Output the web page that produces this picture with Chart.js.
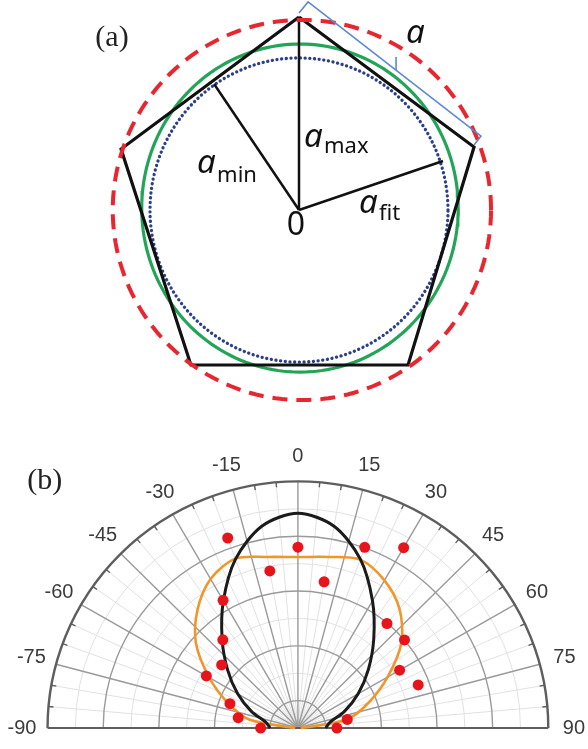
<!DOCTYPE html>
<html>
<head>
<meta charset="utf-8">
<script src="https://cdn.jsdelivr.net/npm/chart.js@4.4.1/dist/chart.umd.min.js"></script>
<style>
  html, body { margin: 0; padding: 0; background: #fff; }
  #page { position: relative; width: 588px; height: 749px; overflow: hidden; }
  #chartA { position: absolute; left: 0; top: 0; }
  #chartB { position: absolute; left: 0; top: 420px; }
</style>
</head>
<body>
<div id="page">
  <canvas id="chartA" width="588" height="420"></canvas>
  <canvas id="chartB" width="588" height="329"></canvas>
</div>
<script>
// ---------- panel (a): pentagon, lengths in units of a_max ----------
const pentagonX = [0.00, 0.907, 0.565, -0.560, -0.922];
const pentagonY = [1.00, 0.326, -0.803, -0.803, 0.316];
// circles: centre x, centre y, radius x, radius y
const outerCircle = [0.015, 0.000, 0.980, 0.985];   // red dashed
const fitCircle   = [0.005, 0.010, 0.820, 0.850];   // green
const innerCircle = [0.000, 0.000, 0.772, 0.788];   // blue dotted
const aMaxEnd = [0.000, 1.000];
const aMinEnd = [-0.440, 0.653];
const aFitEnd = [0.746, 0.254];
const bracketX = [0.000, 0.047, 0.943, 0.907];
const bracketY = [1.021, 1.078, 0.383, 0.337];
const bracketTickX = [0.503, 0.503];
const bracketTickY = [0.725, 0.793];

// ---------- panel (b): polar pattern, angle from vertical (deg) ----------
const angles    = [-90, -80, -70, -60, -50, -40, -30, -20, -10, 0, 10, 20, 30, 40, 50, 60, 70, 80, 90];
const measured  = [0.67, 1.09, 1.30, 1.90, 1.79, 2.10, 2.69, 3.69, 2.91, 3.30, 2.71, 3.51, 3.80, 2.49, 2.50, 2.11, 2.30, 0.90, 0.70];
const fitBlack  = [0.50, 0.58, 0.89, 1.25, 1.65, 2.12, 2.68, 3.28, 3.74, 3.92, 3.74, 3.28, 2.68, 2.12, 1.65, 1.25, 0.89, 0.58, 0.50];
const fitOrange = [0.05, 0.89, 1.34, 1.84, 2.39, 2.81, 3.14, 3.29, 3.17, 3.12, 3.17, 3.27, 3.11, 2.84, 2.43, 1.86, 1.35, 0.89, 0.05];
const angleTicks = [-90, -75, -60, -45, -30, -15, 0, 15, 30, 45, 60, 75, 90];
const ringMajor = [0.5, 1.5, 2.5, 3.5];
const ringMinor = [1, 2, 3, 4];
const rMax = 4.5;
const spokeStep = 5;

const rad = d => d * Math.PI / 180;

function xyPoints(xs, ys) {
  return xs.map((v, i) => ({ x: v, y: ys[i] }));
}
function polarPoints(degs, radii) {
  return degs.map((d, i) => ({ x: radii[i] * Math.sin(rad(d)), y: radii[i] * Math.cos(rad(d)) }));
}
function ellipsePoints(c) {
  const pts = [];
  for (let k = 0; k <= 180; k++) {
    const t = k / 180 * 2 * Math.PI;
    pts.push({ x: c[0] + c[2] * Math.cos(t), y: c[1] + c[3] * Math.sin(t) });
  }
  return pts;
}
function lineSet(label, data, color, width, extra) {
  return Object.assign({
    label: label, data: data, showLine: true, pointRadius: 0, fill: false,
    borderColor: color, borderWidth: width, tension: 0
  }, extra || {});
}

const baseOptions = (xr, yr) => ({
  responsive: false,
  animation: false,
  devicePixelRatio: 1,
  layout: { padding: 0 },
  plugins: { legend: { display: false }, tooltip: { enabled: false } },
  scales: {
    x: { type: 'linear', display: false, min: xr[0], max: xr[1] },
    y: { type: 'linear', display: false, min: yr[0], max: yr[1] }
  }
});

// ---------- text for panel (a) ----------
const SANS = '"Noto Sans", "Open Sans", sans-serif';
const labelsA = {
  id: 'labelsA',
  afterDatasetsDraw(chart) {
    const { ctx, scales: { x, y } } = chart;
    const P = (u, v) => [x.getPixelForValue(u), y.getPixelForValue(v)];
    ctx.save();
    ctx.fillStyle = '#111';
    ctx.textBaseline = 'alphabetic';
    const sym = (u, v, sub, drop) => {
      const [px, py] = P(u, v);
      ctx.textAlign = 'left';
      ctx.font = 'italic 33px ' + SANS;
      ctx.fillText('a', px, py);
      if (sub) {
        ctx.font = '22px ' + SANS;
        ctx.fillText(sub, px + 20, py + drop);
      }
    };
    sym(0.026, 0.326, 'max', 6);
    sym(-0.528, 0.192, 'min', 9);
    sym(0.311, -0.016, 'fit', 7);
    sym(0.555, 0.865, '', 0);
    let [px, py] = P(-0.016, -0.130);
    ctx.textAlign = 'center';
    ctx.font = '32px ' + SANS;
    ctx.fillText('0', px, py);
    [px, py] = P(-0.969, 0.891);
    ctx.textBaseline = 'middle';
    ctx.font = '30px "Liberation Serif", "DejaVu Serif", serif';
    ctx.fillStyle = '#222';
    ctx.fillText('(a)', px, py);
    ctx.restore();
  }
};

new Chart(document.getElementById('chartA'), {
  type: 'scatter',
  data: {
    datasets: [
      lineSet('bracket', xyPoints(bracketX, bracketY), '#5b8bd0', 1.6),
      lineSet('bracket tick', xyPoints(bracketTickX, bracketTickY), '#5b8bd0', 1.6),
      lineSet('circumscribed', ellipsePoints(outerCircle), '#e8262f', 4, { borderDash: [15, 9] }),
      lineSet('pentagon', xyPoints(pentagonX.concat(pentagonX[0]), pentagonY.concat(pentagonY[0])), '#111', 3.2, { borderJoinStyle: 'miter' }),
      lineSet('a max', xyPoints([0, aMaxEnd[0]], [0, aMaxEnd[1]]), '#111', 2.5),
      lineSet('a min', xyPoints([0, aMinEnd[0]], [0, aMinEnd[1]]), '#111', 2.5),
      lineSet('a fit', xyPoints([0, aFitEnd[0]], [0, aFitEnd[1]]), '#111', 2.5),
      lineSet('fit circle', ellipsePoints(fitCircle), '#23a557', 3.2),
      lineSet('inscribed', ellipsePoints(innerCircle), '#2c3f8a', 3.3, { borderDash: [0.1, 4.6], borderCapStyle: 'round' })
    ]
  },
  options: baseOptions([-299 / 193, 289 / 193], [-210 / 193, 210 / 193]),
  plugins: [labelsA]
});

// ---------- polar grid + labels for panel (b) ----------
const polarGrid = {
  id: 'polarGrid',
  beforeDatasetsDraw(chart) {
    const { ctx, scales: { x, y } } = chart;
    const cx = x.getPixelForValue(0), cy = y.getPixelForValue(0);
    const rx = r => x.getPixelForValue(r) - cx;
    const ry = r => cy - y.getPixelForValue(r);
    const at = (d, r) => [cx + rx(r) * Math.sin(rad(d)), cy - ry(r) * Math.cos(rad(d))];
    const seg = (a, b) => { ctx.beginPath(); ctx.moveTo(a[0], a[1]); ctx.lineTo(b[0], b[1]); ctx.stroke(); };
    const arc = r => { ctx.beginPath(); ctx.ellipse(cx, cy, rx(r), ry(r), 0, Math.PI, 2 * Math.PI); ctx.stroke(); };
    ctx.save();
    // minor grid
    ctx.strokeStyle = '#e1e1e1';
    ctx.lineWidth = 1;
    ringMinor.forEach(arc);
    for (let d = -90 + spokeStep; d < 90; d += spokeStep) {
      if (d % 15 !== 0) seg([cx, cy], at(d, rMax));
    }
    // major grid
    ctx.strokeStyle = '#9a9a9a';
    ctx.lineWidth = 1.4;
    ringMajor.forEach(arc);
    angleTicks.forEach(d => { if (Math.abs(d) < 90) seg([cx, cy], at(d, rMax)); });
    // outer frame
    ctx.strokeStyle = '#5e5e5e';
    ctx.lineWidth = 2.4;
    arc(rMax);
    ctx.lineWidth = 2;
    seg(at(-90, rMax), at(90, rMax));
    ctx.lineWidth = 1.4;
    for (let d = -90 + spokeStep; d < 90; d += spokeStep) {
      if (d % 15 !== 0) seg(at(d, rMax), at(d, rMax - 0.09));
    }
    ctx.restore();
  },
  afterDatasetsDraw(chart) {
    const { ctx, scales: { x, y } } = chart;
    ctx.save();
    ctx.fillStyle = '#3b3b3b';
    ctx.font = '20px "Liberation Sans", Arial, sans-serif';
    ctx.textAlign = 'center';
    ctx.textBaseline = 'middle';
    angleTicks.forEach(d => {
      const r = 4.96;
      const px = x.getPixelForValue(r * Math.sin(rad(d)));
      const py = y.getPixelForValue(r * Math.cos(rad(d)));
      ctx.fillText(String(d), px, py);
    });
    ctx.fillStyle = '#222';
    ctx.font = '30px "Liberation Serif", "DejaVu Serif", serif';
    ctx.fillText('(b)', x.getPixelForValue(-4.55), y.getPixelForValue(4.50));
    ctx.restore();
  }
};

new Chart(document.getElementById('chartB'), {
  type: 'scatter',
  data: {
    datasets: [
      {
        label: 'measured', data: polarPoints(angles, measured),
        pointRadius: 5.5, pointBackgroundColor: '#e8141c', pointBorderWidth: 0, showLine: false
      },
      lineSet('model 1', polarPoints(angles, fitBlack), '#1b1b1b', 3, { tension: 0.3 }),
      lineSet('model 2', polarPoints(angles, fitOrange), '#f0962a', 2.6, { tension: 0.3 })
    ]
  },
  options: baseOptions([-298 / 56.7, 290 / 56.7], [-16 / 56.7, 313 / 56.7]),
  plugins: [polarGrid]
});
</script>
</body>
</html>
